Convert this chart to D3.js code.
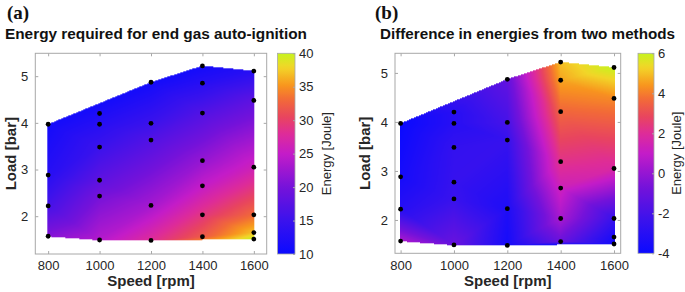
<!DOCTYPE html>
<html>
<head>
<meta charset="utf-8">
<script src="https://cdn.jsdelivr.net/npm/d3@7"></script>
<style>
  html, body { margin: 0; padding: 0; background: #fff; }
  svg text { font-family: "Liberation Sans", Arial, sans-serif; }
</style>
</head>
<body>
<div id="chart"></div>
<script>
// measurement points (same grid in both panels)
const speed = [800, 800, 800, 800,
  1000, 1000, 1000, 1000, 1000, 1000,
  1200, 1200, 1200, 1200, 1200,
  1400, 1400, 1400, 1400, 1400, 1400, 1400,
  1600, 1600, 1600, 1600, 1600, 1600];
const load = [3.97, 2.88, 2.22, 1.57,
  4.20, 3.97, 3.48, 2.77, 2.43, 1.49,
  4.87, 3.99, 3.63, 2.23, 1.48,
  5.22, 4.85, 4.21, 3.19, 2.65, 2.03, 1.56,
  5.11, 4.48, 3.05, 2.03, 1.65, 1.51];

// panel (a): energy required for end gas auto-ignition [J]
const energy = [11, 13, 16, 21,
  12, 13, 15, 18, 20, 24,
  11, 15, 17, 23, 28,
  11, 13, 17, 22, 25, 29, 32,
  13, 18, 26, 33, 37, 40];

// panel (b): difference in energies from two methods [J]
const diff = [-4, -3.6, -3, 0.5,
  -3, -3, -2.6, -2.5, -2.4, -1,
  -1.2, -2, -2.5, -3.3, -3.6,
  5, 4.6, 3.6, 2.2, 1.3, 0.4, -1,
  6, 4.2, 1.8, -2.4, -3.4, -3.7];

const xTicks = [800, 1000, 1200, 1400, 1600];
const yTicks = [2, 3, 4, 5];
const cbTicksA = [10, 15, 20, 25, 30, 35, 40];
const cbTicksB = [-4, -2, 0, 2, 4, 6];

// colormap sampled from the colorbar
const cmapStops = [0, 0.17, 0.33, 0.5, 0.6, 0.68, 0.77, 0.84, 0.93, 1];
const cmapColors = ['#0a0aff', '#3c12ec', '#7412da', '#c41cc8', '#de2c98', '#e84460',
  '#f26a38', '#f8961e', '#f2d628', '#c6f41e'];
const cmap = d3.scaleLinear().domain(cmapStops).range(cmapColors).clamp(true);

const W = 685, H = 292;
const svg = d3.select('#chart').append('svg')
  .attr('width', W).attr('height', H)
  .style('display', 'block');

const axisColor = '#a8a8a8';
const textColor = '#262626';
const plain = d => String(d);

function drawPanel(opt) {
  const { x0, x1, y0, y1, xDomain, yDomain, values, cLo, cHi, cbX, cbTicks, cbLabelX, loadLabelX } = opt;
  const x = d3.scaleLinear().domain(xDomain).range([x0, x1]);
  const y = d3.scaleLinear().domain(yDomain).range([y1, y0]);

  // interpolated triangulated surface, rasterised on a canvas
  const pw = Math.round(x1 - x0), ph = Math.round(y1 - y0);
  const canvas = document.createElement('canvas');
  canvas.width = pw; canvas.height = ph;
  const ctx = canvas.getContext('2d');
  const img = ctx.createImageData(pw, ph);
  const lut = d3.range(512).map(i => d3.rgb(cmap(i / 511)));
  const pts = speed.map((s, i) => [s, load[i]]);
  const del = d3.Delaunay.from(pts);
  const tri = del.triangles;
  for (let t = 0; t < tri.length; t += 3) {
    const ids = [tri[t], tri[t + 1], tri[t + 2]];
    const P = ids.map(i => [x(speed[i]) - x0, y(load[i]) - y0]);
    const V = ids.map(i => values[i]);
    const det = (P[1][1] - P[2][1]) * (P[0][0] - P[2][0]) + (P[2][0] - P[1][0]) * (P[0][1] - P[2][1]);
    if (Math.abs(det) < 1e-9) continue;
    const minX = Math.max(0, Math.floor(d3.min(P, p => p[0])));
    const maxX = Math.min(pw - 1, Math.ceil(d3.max(P, p => p[0])));
    const minY = Math.max(0, Math.floor(d3.min(P, p => p[1])));
    const maxY = Math.min(ph - 1, Math.ceil(d3.max(P, p => p[1])));
    for (let py = minY; py <= maxY; py++) {
      for (let px = minX; px <= maxX; px++) {
        const cx = px + 0.5, cy = py + 0.5;
        const a = ((P[1][1] - P[2][1]) * (cx - P[2][0]) + (P[2][0] - P[1][0]) * (cy - P[2][1])) / det;
        const b = ((P[2][1] - P[0][1]) * (cx - P[2][0]) + (P[0][0] - P[2][0]) * (cy - P[2][1])) / det;
        const c = 1 - a - b;
        if (a < -0.01 || b < -0.01 || c < -0.01) continue;
        const v = a * V[0] + b * V[1] + c * V[2];
        const k = Math.max(0, Math.min(511, Math.round((v - cLo) / (cHi - cLo) * 511)));
        const col = lut[k];
        const o = (py * pw + px) * 4;
        img.data[o] = col.r; img.data[o + 1] = col.g; img.data[o + 2] = col.b; img.data[o + 3] = 255;
      }
    }
  }
  ctx.putImageData(img, 0, 0);
  svg.append('image')
    .attr('x', x0).attr('y', y0)
    .attr('width', pw).attr('height', ph)
    .attr('href', canvas.toDataURL());

  // measurement points
  svg.append('g').selectAll('circle')
    .data(pts)
    .join('circle')
    .attr('cx', d => x(d[0]))
    .attr('cy', d => y(d[1]))
    .attr('r', 2.4)
    .attr('fill', '#000');

  // axes (ticks inward on all four sides)
  const styleAxis = g => {
    g.select('.domain').remove();
    g.selectAll('.tick line').attr('stroke', axisColor);
    g.selectAll('.tick text').attr('fill', textColor).style('font-size', '13px');
  };
  svg.append('g').attr('transform', `translate(0,${y1})`)
    .call(d3.axisBottom(x).tickValues(xTicks).tickFormat(plain).tickSize(-3).tickPadding(7))
    .call(styleAxis);
  svg.append('g').attr('transform', `translate(0,${y0})`)
    .call(d3.axisTop(x).tickValues(xTicks).tickSize(-3).tickFormat(''))
    .call(styleAxis);
  svg.append('g').attr('transform', `translate(${x0},0)`)
    .call(d3.axisLeft(y).tickValues(yTicks).tickFormat(plain).tickSize(-3).tickPadding(7))
    .call(styleAxis);
  svg.append('g').attr('transform', `translate(${x1},0)`)
    .call(d3.axisRight(y).tickValues(yTicks).tickSize(-3).tickFormat(''))
    .call(styleAxis);
  svg.append('rect')
    .attr('x', x0).attr('y', y0)
    .attr('width', x1 - x0).attr('height', y1 - y0)
    .attr('fill', 'none').attr('stroke', axisColor).attr('stroke-width', 1);

  // axis labels
  svg.append('text')
    .attr('x', (x0 + x1) / 2).attr('y', 286)
    .attr('text-anchor', 'middle')
    .style('font-size', '15px').style('font-weight', 'bold')
    .attr('fill', textColor)
    .text('Speed [rpm]');
  svg.append('text')
    .attr('transform', `translate(${loadLabelX},${(y0 + y1) / 2}) rotate(-90)`)
    .attr('text-anchor', 'middle')
    .style('font-size', '15px').style('font-weight', 'bold')
    .attr('fill', textColor)
    .text('Load [bar]');

  // colorbar
  const cb = d3.scaleLinear().domain([cLo, cHi]).range([y1, y0]);
  const gradId = 'grad' + Math.round(cbX);
  const grad = svg.append('defs').append('linearGradient')
    .attr('id', gradId)
    .attr('x1', 0).attr('y1', 1).attr('x2', 0).attr('y2', 0);
  grad.selectAll('stop')
    .data(d3.range(0, 1.0001, 0.02))
    .join('stop')
    .attr('offset', d => d)
    .attr('stop-color', d => cmap(d));
  svg.append('rect')
    .attr('x', cbX).attr('y', y0)
    .attr('width', opt.cbW).attr('height', y1 - y0)
    .attr('fill', `url(#${gradId})`)
    .attr('stroke', axisColor).attr('stroke-width', 0.8);
  svg.append('g').attr('transform', `translate(${cbX + opt.cbW},0)`)
    .call(d3.axisRight(cb).tickValues(cbTicks).tickFormat(plain).tickSize(-2).tickPadding(4))
    .call(styleAxis);
  svg.append('text')
    .attr('transform', `translate(${cbLabelX},${(y0 + y1) / 2}) rotate(-90)`)
    .attr('text-anchor', 'middle')
    .style('font-size', '13px')
    .attr('fill', textColor)
    .text('Energy [Joule]');
}

drawPanel({
  x0: 35.3, x1: 266.7, y0: 53.3, y1: 254,
  xDomain: [750, 1650], yDomain: [1.19, 5.49],
  values: energy, cLo: 10, cHi: 40,
  cbX: 277.5, cbW: 17.5, cbTicks: cbTicksA, cbLabelX: 331, loadLabelX: 16
});
drawPanel({
  x0: 395, x1: 620.7, y0: 53.3, y1: 253.3,
  xDomain: [779, 1625], yDomain: [1.32, 5.4],
  values: diff, cLo: -4, cHi: 6,
  cbX: 638, cbW: 16, cbTicks: cbTicksB, cbLabelX: 681, loadLabelX: 370
});

// panel letters and titles
const letters = [['(a)', 7], ['(b)', 375]];
svg.selectAll('.letter')
  .data(letters)
  .join('text')
  .attr('class', 'letter')
  .attr('x', d => d[1])
  .attr('y', 19)
  .style('font-family', '"Liberation Serif", "Times New Roman", serif')
  .style('font-size', '19px').style('font-weight', 'bold')
  .attr('fill', '#111')
  .text(d => d[0]);

const titles = [['Energy required for end gas auto-ignition', 5, 302], ['Difference in energies from two methods', 380, 295]];
svg.selectAll('.title')
  .data(titles)
  .join('text')
  .attr('class', 'title')
  .attr('x', d => d[1])
  .attr('y', 39)
  .attr('textLength', d => d[2])
  .attr('lengthAdjust', 'spacingAndGlyphs')
  .style('font-size', '14.5px').style('font-weight', 'bold')
  .attr('fill', '#111')
  .text(d => d[0]);
</script>
</body>
</html>
